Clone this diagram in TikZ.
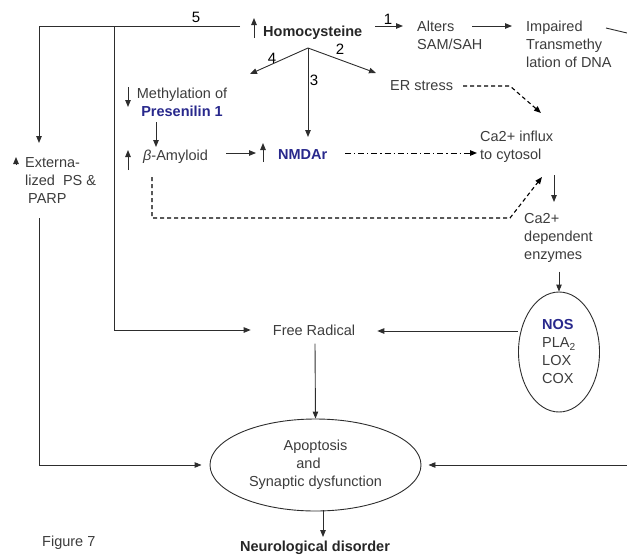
\documentclass[tikz,border=0pt]{standalone}
\usepackage{fontspec}
\setmainfont{Liberation Sans}
\usetikzlibrary{arrows.meta,shapes.geometric}
\definecolor{txt}{RGB}{60,60,60}
\definecolor{ln}{RGB}{45,45,45}
\definecolor{blu}{RGB}{40,40,140}
\begin{document}
\begin{tikzpicture}[x=1pt,y=-1pt,
  every node/.style={text=txt,font=\fontsize{14.5}{18}\selectfont,inner sep=0pt},
  ln/.style={draw=ln,line width=0.9pt},
  arr/.style={ln,-{Triangle[length=7pt,width=5.5pt]}},
  dsh/.style={arr,draw=black,line width=1.1pt,dash pattern=on 4pt off 3pt},
  dd/.style={arr,draw=black,line width=1pt,dash pattern=on 6pt off 3pt on 1.2pt off 3pt},
  lbl/.style={text=black,font=\fontsize{15}{18}\selectfont},
  bold/.style={font=\fontsize{14.5}{18}\selectfont\bfseries},
  ell/.style={draw=ln,line width=0.9pt,ellipse}]
\useasboundingbox (0,0) rectangle (627,555);

% nodes
\node[bold,anchor=west,text=black!85] (hcy) at (263,33) {Homocysteine};
\node[anchor=west,align=left] (sam) at (417,35) {Alters\\SAM/SAH};
\node[anchor=west,align=left] (dna) at (526,44) {Impaired\\Transmethy\\lation of DNA};
\node[anchor=west] (er) at (390,86) {ER stress};
\node[align=center] (meth) at (182,102) {Methylation of\\{\bfseries\color{blu}Presenilin 1}};
\node[anchor=west] (amy) at (143,157) {\textit{β}-Amyloid};
\node[bold,anchor=west,text=blu] (nmda) at (278,155) {NMDAr};
\node[anchor=west,align=left] (ca) at (480,147) {Ca2+ influx\\to cytosol};
\node[anchor=west,align=left] (enz) at (524,238) {Ca2+\\dependent\\enzymes};
\node[anchor=west,align=left] (ext) at (25,181) {Externa-\\lized\ \ PS \&\\\hspace{3pt}PARP};
\node[ell,minimum width=81pt,minimum height=120pt,align=left] (nos) at (559,352)
  {{\bfseries\color{blu}NOS}\\PLA\textsubscript{2}\\LOX\\COX};
\node[inner xsep=22pt] (fr) at (314,330) {Free Radical};
\node[ell,minimum width=211pt,minimum height=92pt,align=center] (apo) at (315.5,465)
  {Apoptosis\\\hspace{-14pt}and\\Synaptic dysfunction};
\node[bold,text=black!85] (nd) at (315,548) {Neurological disorder};
\node[anchor=west] (fig) at (42,543) {Figure 7};

% small up/down markers
\draw[arr] (254,38) -- (254,18);
\draw[arr] (128,87) -- (128,107);
\draw[arr] (128,170) -- (128,150);
\draw[arr] (263,162) -- (263,143);
\draw[arr] (16,165) -- (16,157);

% branch labels
\node[lbl] (l5) at (196,17) {5};
\node[lbl] (l1) at (388,19) {1};
\node[lbl] (l4) at (272,58) {4};
\node[lbl] (l2) at (340,49) {2};
\node[lbl] (l3) at (314,80) {3};

% coordinates
\coordinate (apex) at (308,48);
\coordinate (e4) at (250,74);
\coordinate (e2) at (376,73);
\coordinate (e3) at (308,137);
\coordinate (top5) at (240,26);
\coordinate (cl) at (39,26);
\coordinate (cm) at (114,26);
\coordinate (extT) at (39,143);
\coordinate (dnaout) at (627,33);
\coordinate (rin) at (627,465);

% connectors
\draw[arr] (apex) -- (e4);
\draw[arr] (apex) -- (e2);
\draw[arr] (apex) -- (e3);
\draw[arr] (375,26) -- (403,26);
\draw[arr] (472,26) -- (512,26);
\draw[ln] (606,28) -- (dnaout);
\draw[ln] (top5) -- (cl);
\draw[arr] (cl) -- (extT);
\draw[arr] (cm) -- (114,330) -- (fr.west);
\draw[dsh] (er.east) ++(10,0) -- (510,86) -- (541,113);
\draw[arr] (156,122) -- (156,147);
\draw[arr] (226,153) -- (256,153);
\draw[dd] (345,153) -- (477,153);
\draw[dsh] (152,177) -- (152,218) -- (510,218) -- (542,177);
\draw[arr] (554,175) -- (554,202);
\draw[arr] (nos.north) ++(0,-20) -- (nos.north);
\draw[arr] (nos.west |- 0,331) -- (fr.east |- 0,331);
\draw[arr] (fr.south) ++(1,8) -- (apo.north);
\draw[arr,shorten >=8pt] (39,218) -- (39,465) -- (apo.west);
\draw[arr,shorten >=7pt] (rin) -- (apo.east);
\draw[arr] (323,510) -- (323,537);
\end{tikzpicture}
\end{document}
